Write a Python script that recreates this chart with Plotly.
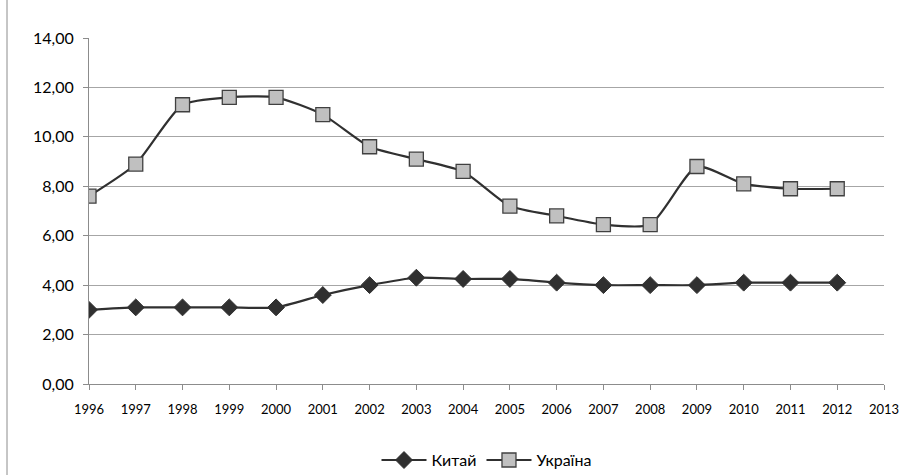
import plotly.graph_objects as go

years = list(range(1996, 2013))
china = [3.0, 3.1, 3.1, 3.1, 3.1, 3.6, 4.0, 4.3, 4.25, 4.25, 4.1, 4.0, 4.0, 4.0, 4.1, 4.1, 4.1]
ukraine = [7.6, 8.9, 11.3, 11.6, 11.6, 10.9, 9.6, 9.1, 8.6, 7.2, 6.8, 6.45, 6.45, 8.8, 8.1, 7.9, 7.9]
x_ticks = list(range(1996, 2014))
y_ticks = [0, 2, 4, 6, 8, 10, 12, 14]

fig = go.Figure()
fig.add_trace(go.Scatter(
    x=years, y=china, name="Китай", mode="lines+markers",
    line=dict(color="#303030", width=2.2, shape="spline", smoothing=0.6),
    marker=dict(symbol="diamond", size=13, color="#303030", line=dict(color="#303030", width=1)),
))
fig.add_trace(go.Scatter(
    x=years, y=ukraine, name="Україна", mode="lines+markers",
    line=dict(color="#303030", width=2.2, shape="spline", smoothing=0.6),
    marker=dict(symbol="square", size=14, color="#c0c0c0", line=dict(color="#404040", width=1.3)),
))

fig.update_layout(
    width=909, height=475,
    margin=dict(l=89, r=25, t=38, b=91, autoexpand=False),
    paper_bgcolor="white", plot_bgcolor="white",
    separators=", ",
    font=dict(family="Lato, Open Sans, sans-serif", color="#000000"),
    showlegend=True,
    legend=dict(orientation="h", x=0.5, xanchor="center", y=-0.22, yanchor="middle",
                font=dict(size=16), itemwidth=45, tracegroupgap=0),
    xaxis=dict(range=[1996, 2013], tickmode="array", tickvals=x_ticks,
               ticktext=[str(v) for v in x_ticks], showgrid=False, zeroline=False,
               showline=True, linecolor="#8c8c8c", linewidth=1, automargin=False,
               ticks="outside", ticklen=5, tickcolor="#8c8c8c",
               tickfont=dict(size=13), ticklabelstandoff=8),
    yaxis=dict(range=[0, 14], tickmode="array", tickvals=y_ticks, tickformat=".2f",
               showgrid=True, gridcolor="#a6a6a6", gridwidth=1, zeroline=False,
               showline=True, linecolor="#8c8c8c", linewidth=1, automargin=False,
               ticks="outside", ticklen=5, tickcolor="#8c8c8c",
               tickfont=dict(size=16), ticklabelstandoff=6),
)
fig.add_shape(type="line", xref="paper", yref="paper",
              x0=-82/795, x1=-82/795, y0=-91/346, y1=1 + 38/346,
              line=dict(color="#8c8c8c", width=1))

fig.write_html("out.html", config={"displayModeBar": False},
               post_script="document.body.style.margin='0';")
